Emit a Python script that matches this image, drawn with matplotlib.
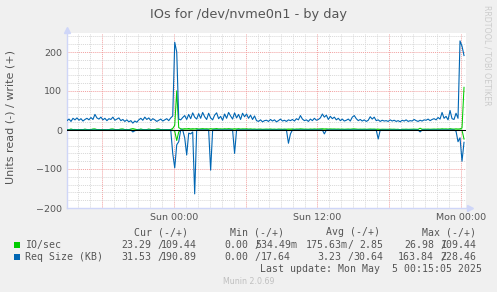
import numpy as np
import matplotlib
matplotlib.use('Agg')
import matplotlib.pyplot as plt
from matplotlib.patches import Rectangle

# samples every 10 min, starting Sat 15:05 (minutes relative to Sun 00:00)
start_min = -535
step_min = 10

# Req Size (KB) write (+)
rq_write = [
    24, 28, 22, 30, 26, 31, 25, 29, 23, 27,
    30, 26, 32, 27, 40, 31, 28, 33, 26, 30,
    24, 29, 27, 33, 25, 28, 31, 24, 27, 22,
    26, 21, 24, 17.64, 23, 20, 26, 30, 25, 33,
    27, 31, 24, 29, 26, 22, 25, 28, 23, 26,
    29, 24, 31, 36, 225, 200, 28, 26, 32, 37,
    27, 40, 29, 44, 33, 28, 42, 30, 45, 34,
    27, 43, 31, 26, 38, 44, 29, 35, 25, 41,
    30, 45, 36, 28, 44, 31, 40, 27, 43, 34,
    41, 30, 38, 27, 36, 24, 22, 26, 21, 24,
    25, 22, 27, 23, 26, 21, 24, 28, 23, 25,
    22, 26, 24, 27, 23, 29, 26, 37, 28, 24,
    26, 22, 28, 24, 30, 25, 27, 31, 41, 33,
    38, 27, 35, 29, 33, 26, 30, 24, 28, 23,
    25, 28, 23, 33, 37, 29, 24, 27, 23, 26,
    22, 25, 34, 28, 33, 24, 26, 22, 25, 23,
    24, 22, 26, 23, 25, 22, 24, 21, 25, 23,
    26, 22, 24, 23, 27, 24, 22, 25, 23, 26,
    25, 28, 24, 27, 29, 26, 32, 28, 45, 30,
    35, 26, 50, 29, 27, 43, 30, 228.46, 215, 190.89,
]

# Req Size (KB) read (-)
rq_read = [
    0, 0, 0, 0, 0, 0, 0, 0, 0, 0,
    0, 0, 0, 0, 0, 0, 0, 0, 0, 0,
    0, 0, 0, 0, 0, 0, 0, 0, 0, 0,
    0, 0, 0, 5, 2, 0, 0, 0, 0, 0,
    0, 0, 0, 0, 0, 0, 0, 0, 0, 0,
    0, 0, 0, 60, 97, 38, 30, 0, 0, 20,
    64, 8, 10, 5, 163.84, 0, 0, 0, 0, 0,
    0, 0, 103, 0, 0, 0, 0, 0, 0, 0,
    0, 0, 0, 0, 60, 0, 0, 0, 0, 0,
    0, 0, 0, 0, 0, 0, 0, 0, 0, 0,
    0, 0, 0, 0, 0, 0, 0, 0, 0, 0,
    0, 34, 10, 0, 0, 0, 0, 0, 0, 0,
    0, 0, 0, 0, 0, 0, 0, 0, 0, 10,
    0, 0, 0, 0, 0, 0, 0, 0, 0, 0,
    0, 0, 0, 0, 0, 0, 0, 0, 0, 0,
    0, 0, 0, 0, 0, 0, 23, 0, 0, 0,
    0, 0, 0, 0, 0, 0, 0, 0, 0, 0,
    0, 0, 0, 0, 0, 0, 0, 5, 0, 0,
    0, 0, 0, 0, 0, 0, 0, 0, 0, 0,
    0, 0, 0, 0, 0, 3, 30, 20, 80, 31.53,
]

# IO/sec write (+)
io_write = [
    1.2, 0.9, 2.6, 1.1, 1.4, 0.8, 1.0, 1.3, 0.9, 2.4,
    1.1, 0.8, 1.2, 2.7, 2.9, 1.0, 1.3, 0.9, 1.1, 1.2,
    0.8, 1.0, 2.5, 2.8, 1.1, 0.9, 1.2, 2.6, 2.8, 1.0,
    1.3, 0.9, 2.5, 3.6, 2.4, 1.1, 1.0, 2.7, 1.2, 0.9,
    1.1, 2.6, 1.0, 1.2, 0.8, 2.5, 2.7, 1.0, 0.9, 1.1,
    1.2, 0.9, 1.4, 4.0, 12.0, 100.5, 6.0, 3.1, 2.6, 3.4,
    2.9, 3.8, 2.7, 3.3, 2.8, 3.6, 2.5, 3.0, 3.5, 2.9,
    3.2, 2.6, 3.4, 2.8, 3.1, 3.7, 2.7, 3.0, 2.5, 3.3,
    2.8, 3.5, 2.9, 2.6, 3.2, 2.7, 3.4, 2.5, 3.0, 2.8,
    3.1, 2.4, 2.9, 2.2, 2.6, 2.0, 2.3, 2.5, 1.9, 2.2,
    2.4, 2.1, 2.6, 2.0, 2.3, 1.8, 2.5, 2.2, 2.0, 2.4,
    2.1, 2.5, 2.3, 2.7, 2.0, 2.6, 2.4, 3.0, 2.5, 2.2,
    2.3, 2.0, 2.6, 2.2, 2.8, 2.3, 2.5, 2.9, 3.2, 2.7,
    3.0, 2.4, 2.8, 2.5, 2.7, 2.3, 2.6, 2.1, 2.4, 2.0,
    2.2, 2.5, 2.1, 2.7, 2.9, 2.4, 2.0, 2.3, 2.1, 2.4,
    1.9, 2.2, 2.6, 2.3, 2.5, 2.0, 2.3, 1.8, 2.1, 2.0,
    2.1, 1.9, 2.3, 2.0, 2.2, 1.7, 2.0, 0.53, 2.1, 1.9,
    2.2, 1.8, 2.0, 2.1, 2.3, 2.0, 1.8, 4.5, 2.0, 2.2,
    2.1, 2.4, 2.0, 2.3, 2.5, 2.2, 2.7, 2.4, 3.1, 2.6,
    2.9, 2.3, 3.4, 2.6, 2.4, 3.0, 2.5, 3.0, 5.0, 109.44,
]

# IO/sec read (-)
io_read = [
    0, 0, 0.1, 0, 0, 0, 0.2, 0, 0, 0,
    0, 0, 0, 0, 0, 0.1, 0, 0, 0, 0,
    0, 0, 0, 0, 0, 0, 0, 0, 0, 0,
    0, 0, 0.3, 0.5, 0, 0, 0, 0, 0, 0,
    0, 0, 0, 0, 0, 0, 0, 0, 0, 0,
    0, 0, 0, 0, 3.0, 26.98, 5.0, 0.4, 0, 0,
    0.5, 0, 0, 0, 0.8, 0, 0, 0, 0, 0,
    0, 0, 0.6, 0, 0, 0, 0, 0, 0, 0,
    0, 0, 0, 0, 0.3, 0, 0, 0, 0, 0,
    0, 0, 0, 0, 0, 0, 0, 0, 0, 0,
    0, 0, 0, 0, 0, 0, 0, 0, 0, 0,
    0, 0.2, 0, 0, 0, 0, 0, 0, 0, 0,
    0, 0, 0, 0, 0, 0, 0, 0, 0, 0,
    0, 0, 0, 0, 0, 0, 0, 0, 0, 0,
    0, 0, 0, 0, 0, 0, 0, 0, 0, 0,
    0, 0, 0, 0, 0, 0, 0.2, 0, 0, 0,
    0, 0, 0, 0, 0, 0, 0, 0, 0, 0,
    0, 0, 0, 0, 0, 0, 0, 3.0, 0, 0,
    0, 0, 0, 0, 0, 0, 0, 0, 0, 0,
    0, 0, 0, 0, 0, 0, 0, 0.2, 0.5, 23.29,
]

xtick_hours = [-6, 0, 6, 12, 18, 24]
xtick_labels = ['', 'Sun 00:00', '', 'Sun 12:00', '', 'Mon 00:00']

legend_names = ['IO/sec', 'Req Size (KB)']
legend_colors = ['#00CC00', '#0066B3']
col_heads = ['Cur (-/+)', 'Min (-/+)', 'Avg (-/+)', 'Max (-/+)']
io_stats = [('23.29', '109.44'), ('0.00', '534.49m'), ('175.63m', '2.85'), ('26.98', '109.44')]
rq_stats = [('31.53', '190.89'), ('0.00', '17.64'), ('3.23', '30.64'), ('163.84', '228.46')]

W, H = 497, 292
fig = plt.figure(figsize=(W / 100, H / 100), dpi=100, facecolor='#F0F0F0')


def fx(px):
    return px / W


def fy(py):
    return 1 - py / H


txt = '#555555'
ax = fig.add_axes([fx(67), fy(208), (466 - 67) / W, (208 - 32.5) / H])
ax.set_facecolor('white')

t = (start_min + step_min * np.arange(len(rq_write))) / 60.0

ax.axhline(0, color='black', lw=0.75, zorder=4)
ax.plot(t, -np.array(io_read), color=legend_colors[0], lw=0.75, zorder=3)
ax.plot(t, io_write, color=legend_colors[0], lw=0.75, zorder=3)
ax.plot(t, -np.array(rq_read), color=legend_colors[1], lw=0.8, zorder=3)
ax.plot(t, rq_write, color=legend_colors[1], lw=0.8, zorder=3)

ax.set_xlim(t[0], t[-1] + step_min / 60.0)
ax.set_ylim(-200, 250)
ax.set_xticks(xtick_hours)
ax.set_xticklabels(xtick_labels)
ax.set_xticks(np.arange(-8, 25), minor=True)
ax.set_yticks([-200, -100, 0, 100, 200])
ax.set_yticks(np.arange(-200, 251, 20), minor=True)
ax.grid(which='minor', color='#D8D8D8', lw=0.7, ls=(0, (1, 1)), zorder=1)
ax.grid(which='major', color='#F2A0A0', lw=0.7, ls=(0, (1, 1)), zorder=2)
ax.tick_params(which='both', length=0, labelsize=6.8, colors=txt)
ax.tick_params(axis='y', pad=3.6)
ax.tick_params(axis='x', pad=3.4)
for s in ['top', 'right']:
    ax.spines[s].set_visible(False)
for s in ['left', 'bottom']:
    ax.spines[s].set_color('#CFD6F8')
    ax.spines[s].set_linewidth(1.0)
ax.plot([0], [1.015], marker='^', ms=4, color='#CFD6F8', transform=ax.transAxes, clip_on=False)
ax.plot([1.01], [0], marker='>', ms=4, color='#CFD6F8', transform=ax.transAxes, clip_on=False)

fig.text(fx(248), fy(18.3), 'IOs for /dev/nvme0n1 - by day', ha='center', va='baseline',
         size=9.3, color=txt)
fig.text(fx(11), fy(117.5), 'Units read (-) / write (+)', rotation=90, ha='center',
         va='center', size=8, color=txt)
fig.text(fx(487.5), fy(5), 'RRDTOOL / TOBI OETIKER', rotation=270, ha='center', va='top',
         size=5.7, color='#CCCCCC')

# legend
mono = 'DejaVu Sans Mono'
FS = 7.1
CW = 5.96
neg_end = [151.7, 248.3, 341.3, 434]
slash_x = [157.7, 254.3, 347.4, 440.5]
pos_end = [196.7, 291, 383.3, 476.7]
head_x = [133.5, 230.5, 326.5, 422.5]


def right_text(x, y, s):
    if s.endswith('m'):
        x += CW
    fig.text(fx(x), fy(y), s, ha='right', va='center', family=mono, size=FS, color=txt)


for hx, h in zip(head_x, col_heads):
    fig.text(fx(hx), fy(232.3), h, ha='left', va='center', family=mono, size=FS, color=txt)

for row, (name, col, stats) in enumerate(zip(legend_names, legend_colors, [io_stats, rq_stats])):
    y = 245 + 12 * row
    fig.patches.append(Rectangle((fx(14), fy(y + 3)), 6 / W, 6 / H, transform=fig.transFigure,
                                 facecolor=col, edgecolor='none'))
    fig.text(fx(25), fy(y), name, ha='left', va='center', family=mono, size=FS, color=txt)
    for k, (neg, pos) in enumerate(stats):
        right_text(neg_end[k], y, neg)
        fig.text(fx(slash_x[k]), fy(y), '/', ha='left', va='center', family=mono, size=FS, color=txt)
        right_text(pos_end[k], y, pos)

fig.text(fx(482.5), fy(268.5), 'Last update: Mon May  5 00:15:05 2025', ha='right', va='center',
         family=mono, size=FS, color=txt)
fig.text(fx(249), fy(281), 'Munin 2.0.69', ha='center', va='center', size=5.7, color='#C0C0C0')

fig.savefig('out.png', dpi=100, facecolor=fig.get_facecolor())
